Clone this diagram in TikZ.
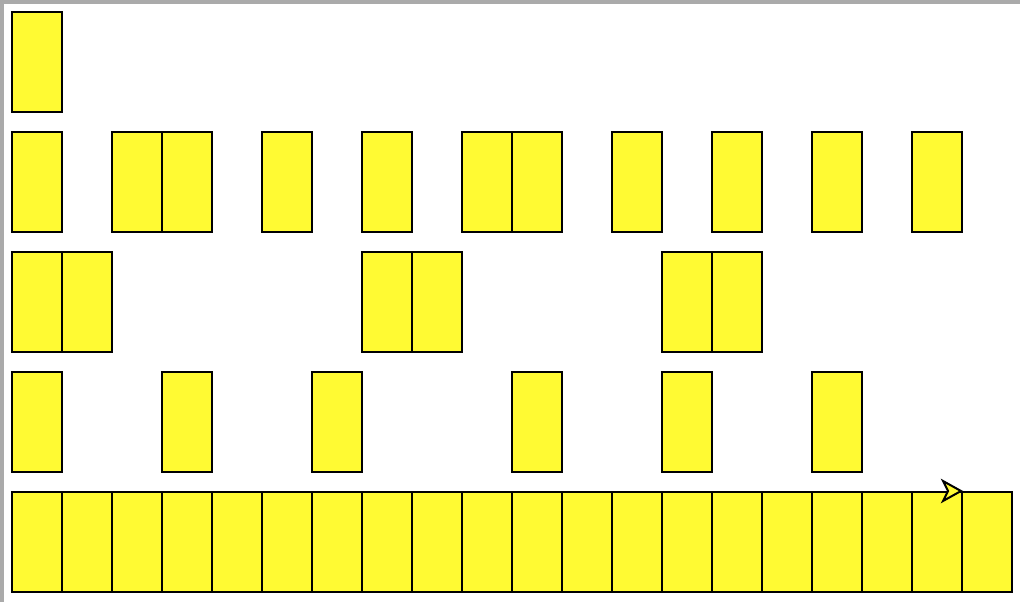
\documentclass[tikz,border=0pt]{standalone}
\definecolor{boxyellow}{RGB}{255,250,51}
\definecolor{edgegray}{RGB}{170,170,170}
\begin{document}
\begin{tikzpicture}[x=1pt,y=-1pt,
  cell/.style={draw=black,fill=boxyellow,line width=2pt,rectangle,inner sep=0pt,
    minimum width=50pt,minimum height=100pt,anchor=north west},
  headshape/.style={draw=black,fill=boxyellow,line width=2pt,line join=miter}]
\useasboundingbox (0,0) rectangle (1020,602);
\fill[white] (0,0) rectangle (1020,602);
\fill[edgegray] (0,0) rectangle (1020,4);
\fill[edgegray] (0,0) rectangle (4,602);
% row 1
\node[cell] (a1) at (11,11) {};
% row 2
\foreach \x [count=\i] in {11,111,161,261,361,461,511,611,711,811,911}
  \node[cell] (b\i) at (\x,131) {};
% row 3
\foreach \x [count=\i] in {11,61,361,411,661,711}
  \node[cell] (c\i) at (\x,251) {};
% row 4
\foreach \x [count=\i] in {11,161,311,511,661,811}
  \node[cell] (d\i) at (\x,371) {};
% row 5
\foreach \i in {1,...,20}
  \node[cell] (e\i) at ({11+50*(\i-1)},491) {};
% arrowhead at the corner of the last cell
\draw[headshape] (e20.north west) -- ++(-18,-10) -- ++(5,10) -- ++(-5,10) -- cycle;
\end{tikzpicture}
\end{document}
